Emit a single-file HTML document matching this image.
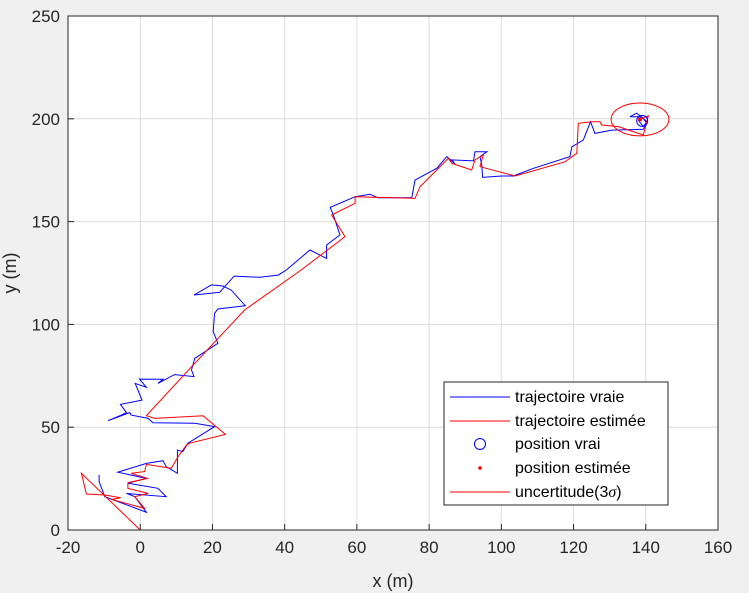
<!DOCTYPE html>
<html><head><meta charset="utf-8"><style>
body{margin:0;background:#f0f0f0;}
svg{display:block;font-family:"Liberation Sans",sans-serif;}
</style></head><body>
<svg id="chart" width="749" height="593">
<rect x="0" y="0" width="749" height="593" fill="#f0f0f0"/>
<rect x="68" y="16" width="650" height="514" fill="#fff"/>
<g id="grid"></g>
<g id="series"></g>
<rect x="68" y="16" width="650" height="514" fill="none" stroke="#262626" stroke-width="1"/>
<g id="ticks"></g>
<text x="393" y="587" font-size="18" fill="#262626" text-anchor="middle">x (m)</text>
<text x="16" y="273" font-size="18" fill="#262626" text-anchor="middle" transform="rotate(-90 16 273)">y (m)</text>
<g>
<rect x="444" y="382" width="224" height="123" fill="#fff" stroke="#262626" stroke-width="1"/>
<line x1="450" y1="397" x2="510" y2="397" stroke="#0000ff"/>
<text x="515" y="402" font-size="16" fill="#000">trajectoire vraie</text>
<line x1="450" y1="421" x2="510" y2="421" stroke="#ff0000"/>
<text x="515" y="426" font-size="16" fill="#000">trajectoire estimée</text>
<circle cx="480" cy="444" r="5.5" fill="none" stroke="#0000ff"/>
<text x="515" y="449" font-size="16" fill="#000">position vrai</text>
<circle cx="480" cy="468" r="1.8" fill="#ff0000"/>
<text x="515" y="473" font-size="16" fill="#000">position estimée</text>
<line x1="450" y1="492" x2="510" y2="492" stroke="#ff0000"/>
<text x="515" y="497" font-size="16" fill="#000">uncertitude(3<tspan font-family="Liberation Serif" font-style="italic">σ</tspan>)</text>
</g>
</svg>
<script>
const xTicks=[-20,0,20,40,60,80,100,120,140,160];
const yTicks=[0,50,100,150,200,250];
const trueX=[-11.4,-11.4,-9.8,1.7,-1.5,-3.8,7.2,4.9,-3.4,1.7,-6.2,1.7,6.3,7.2,10.3,10.3,11.8,13.2,20.6,15.1,3.5,2.2,-2.5,-2.9,-8.9,-5.2,-3.8,-5.5,0.5,-1.4,1.7,-0.2,6.3,4.9,9.5,14.9,14.2,15.1,21.5,20.2,20.6,21.5,29.1,25.2,22.9,19.7,14.9,22.0,26.0,33.1,38.2,40.5,47.0,51.6,51.6,55.3,53.5,52.6,59.5,63.6,65.9,75.2,76.1,82.1,84.9,87.2,86.3,92.3,92.7,96.0,94.1,94.6,94.8,100.1,103.3,108.9,119.0,119.5,122.7,124.7,125.9,130.6,139.3,140.3,138.9,135.6,137.5,140.3,139.3,137.9];
const trueY=[26.8,23.5,16.2,8.6,16.2,17.8,16.2,20.3,22.7,25.1,28.1,32.4,33.7,30.8,27.6,38.9,38.1,42.2,50.3,51.9,52.2,54.3,55.9,57.1,53.2,55.9,57.1,61.1,63.2,71.3,69.4,73.4,73.3,71.3,75.6,74.6,77.8,83.5,90.8,96.5,105.4,107.5,109.1,116.7,118.7,119.2,114.3,115.6,123.5,122.9,124.0,126.5,136.2,132.1,138.6,143.5,153.2,156.9,162.1,163.3,161.6,161.6,170.2,175.9,181.6,178.0,180.0,179.5,184.0,184.0,181.6,177.5,171.5,172.2,172.2,175.9,181.6,186.4,189.7,198.6,192.9,194.5,194.9,197.8,201.0,201.0,202.7,198.6,196.2,199.4];
const estX=[0,-16.3,-14.9,-9.8,-5.4,-8.0,1.2,-1.5,2.2,-3.4,-3.4,2.0,-2.5,1.2,1.7,8.6,10.5,12.8,13.7,23.6,17.4,4.0,1.7,14.2,28.9,44.6,56.7,53.0,59.5,59.5,76.1,77.5,82.1,85.3,86.3,91.8,92.7,95.0,94.1,103.8,117.6,120.9,121.3,125.0,127.3,127.8,132.4,139.3,140.7,138.4];
const estY=[0,27.6,17.5,17.0,15.7,14.9,10.5,16.2,17.8,20.3,23.0,25.1,27.6,28.4,31.9,30.0,35.7,41.3,42.2,46.5,55.6,54.3,55.6,79.4,107.0,126.5,142.7,153.2,158.9,162.1,161.3,167.0,175.1,180.8,178.3,175.1,180.0,182.4,176.7,172.2,179.1,183.2,197.8,198.6,198.6,197.0,196.2,192.1,201.4,199.7];
const truePos=[139.0,199.0];
const estPos=[138.4,199.7];
const sigma3=[8,8];
const X0=68,X1=718,Y0=530,Y1=16,xmin=-20,xmax=160,ymin=0,ymax=250;
function sx(v){return X0+(v-xmin)/(xmax-xmin)*(X1-X0);}
function sy(v){return Y0-(v-ymin)/(ymax-ymin)*(Y0-Y1);}
const NS="http://www.w3.org/2000/svg";
const grid=document.getElementById('grid'),ticks=document.getElementById('ticks'),ser=document.getElementById('series');
function mk(tag,attrs,parent){const e=document.createElementNS(NS,tag);for(const k in attrs)e.setAttribute(k,attrs[k]);parent.appendChild(e);return e;}
xTicks.forEach(t=>{
  const g=mk('line',{x1:sx(t),x2:sx(t),y1:Y1,y2:Y0,stroke:'#dcdcdc','stroke-width':1},grid);
  
  
  const tk=mk('line',{x1:sx(t),x2:sx(t),y1:Y0,y2:Y0-6,stroke:'#262626'},ticks);
  
  
  const tx=mk('text',{x:sx(t),y:Y0+23,'font-size':17,fill:'#262626','text-anchor':'middle'},ticks);
  tx.textContent=t;
  
  
});
yTicks.forEach(t=>{
  const g=mk('line',{x1:X0,x2:X1,y1:sy(t),y2:sy(t),stroke:'#dcdcdc','stroke-width':1},grid);
  
  
  const tk=mk('line',{x1:X0,x2:X0+6,y1:sy(t),y2:sy(t),stroke:'#262626'},ticks);
  
  
  const tx=mk('text',{x:X0-8,y:sy(t)+6,'font-size':17,fill:'#262626','text-anchor':'end'},ticks);
  tx.textContent=t;
  
  
});
function pts(xs,ys){return xs.map((v,i)=>sx(v).toFixed(1)+','+sy(ys[i]).toFixed(1)).join(' ');}
const tl=mk('polyline',{points:pts(trueX,trueY),fill:'none',stroke:'#0000ff','stroke-width':1},ser);


const el=mk('polyline',{points:pts(estX,estY),fill:'none',stroke:'#ff0000','stroke-width':1},ser);


const ell=mk('ellipse',{cx:sx(estPos[0]),cy:sy(estPos[1]),rx:sx(estPos[0]+sigma3[0])-sx(estPos[0]),ry:sy(estPos[1])-sy(estPos[1]+sigma3[1]),fill:'none',stroke:'#ff0000'},ser);


const tp=mk('circle',{cx:sx(truePos[0]),cy:sy(truePos[1]),r:5.5,fill:'none',stroke:'#0000ff'},ser);


const ep=mk('circle',{cx:sx(estPos[0]),cy:sy(estPos[1]),r:2,fill:'#ff0000'},ser);


</script>
</body></html>
